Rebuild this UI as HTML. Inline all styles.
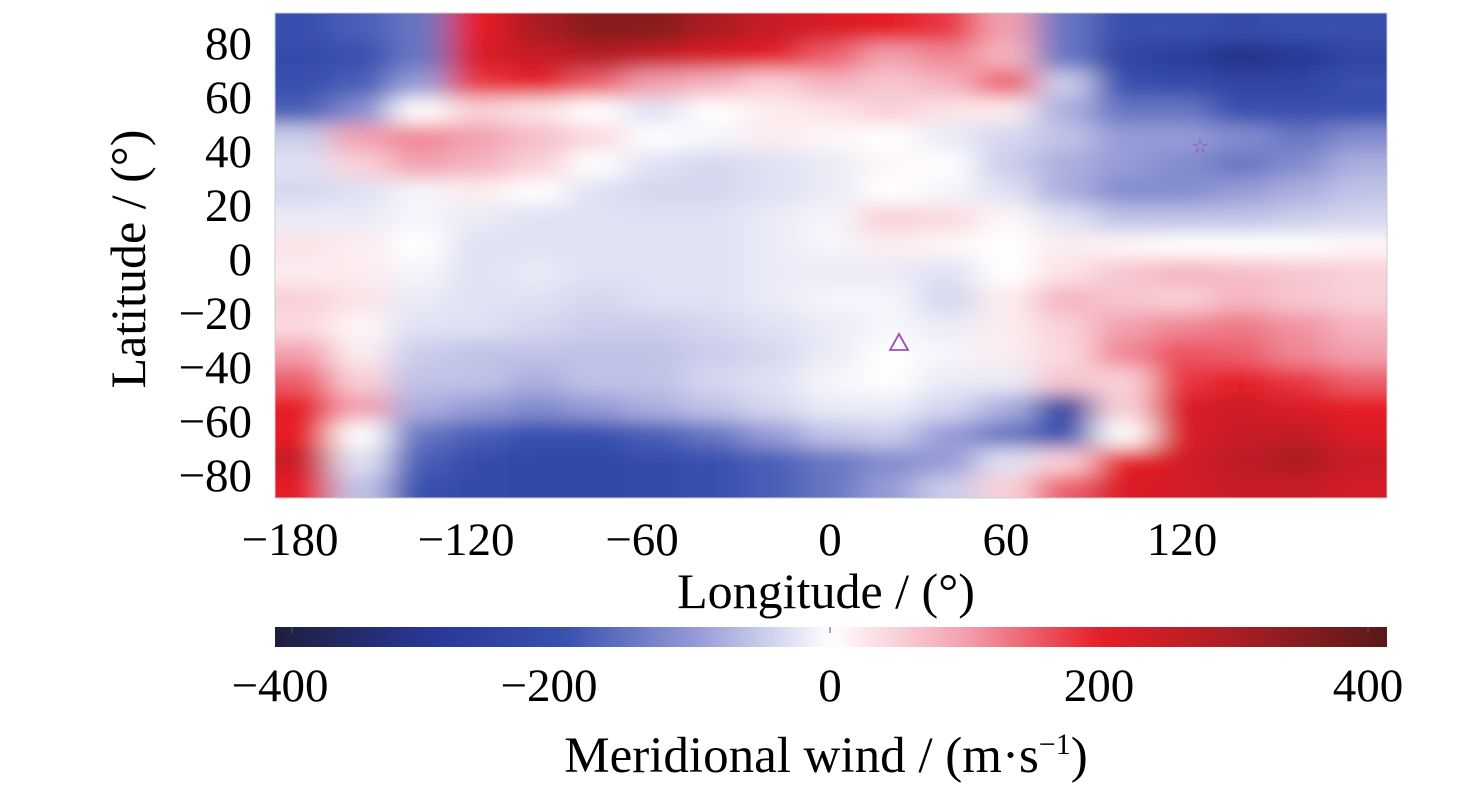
<!DOCTYPE html>
<html><head><meta charset="utf-8">
<style>
body{margin:0;background:#fff;}
svg{display:block;font-family:"Liberation Serif",serif;}
</style></head>
<body>
<svg id="chart" width="1476" height="785" xmlns="http://www.w3.org/2000/svg">
<defs>
<clipPath id="plotclip"><rect x="275" y="13" width="1112" height="485"/></clipPath>
<filter id="blur" x="-10%" y="-10%" width="120%" height="120%"><feGaussianBlur stdDeviation="17 9"/></filter>
<linearGradient id="cbgrad" x1="0" x2="1" y1="0" y2="0"></linearGradient>
</defs>
<g clip-path="url(#plotclip)"><g id="cells" filter="url(#blur)"></g></g>
<rect x="275" y="13" width="1112" height="485" fill="none" stroke="#ccc" stroke-width="1"/>
<g id="xticks"></g><g id="yticks"></g>
<text x="145" y="259" font-size="50" text-anchor="middle" transform="rotate(-90 145 259)">Latitude / (°)</text>
<text x="826" y="608" font-size="50" text-anchor="middle">Longitude / (°)</text>
<rect x="275" y="627" width="1112" height="20" fill="url(#cbgrad)"/>
<g id="cbticks"></g>
<text x="826" y="772" font-size="51" text-anchor="middle">Meridional wind / (m·s<tspan dy="-18" font-size="30">−1</tspan><tspan dy="18">)</tspan></text>
<text x="1200" y="153" font-size="20" fill="#9b4fb0" text-anchor="middle">☆</text>
<polygon points="899,334 908,350 890,350" fill="none" stroke="#9b4fb0" stroke-width="1.8"/>
</svg>
<script>
const lons=[-180,-160,-140,-120,-100,-80,-60,-40,-20,0,20,40,60,80,100,120,140,160,180];
const lats=[85,75,65,55,45,35,25,15,5,-5,-15,-25,-35,-45,-55,-65,-75,-85];
const values=[
[-200,-180,-150,200,300,350,350,300,250,220,200,180,100,-150,-200,-200,-220,-200,-200],
[-220,-200,-150,220,250,280,250,220,200,150,100,120,80,-150,-250,-280,-320,-300,-250],
[-200,-180,-100,180,200,150,100,80,50,80,60,80,150,-50,-200,-220,-250,-250,-200],
[-180,-120,0,50,30,0,-30,0,20,30,50,30,20,-80,-150,-150,-200,-200,-200],
[-50,100,120,100,70,40,0,-10,20,10,0,-20,-40,-60,-100,-100,-120,-150,-120],
[-30,50,100,80,50,0,-30,-40,-30,-20,10,0,-50,-80,-100,-120,-150,-120,-80],
[-40,-30,-10,20,0,-30,-40,-40,-30,-20,0,-10,-30,-80,-120,-120,-100,-80,-60],
[-20,-20,-10,-20,-30,-30,-30,-30,-20,-10,50,40,10,-30,-60,-60,-60,-50,-40],
[30,20,0,-30,-30,-30,-30,-30,-20,-10,20,10,0,20,10,0,0,0,10],
[20,20,-10,-30,-20,-30,-30,-30,-20,-20,-20,-30,0,30,60,80,70,60,50],
[50,30,-20,-30,-30,-40,-30,-30,-20,-10,-10,-40,20,80,60,50,80,60,50],
[40,10,-30,-30,-40,-50,-50,-40,-30,-20,-10,-20,20,50,100,120,130,110,80],
[100,20,-50,-60,-60,-60,-60,-50,-40,-20,0,-10,20,40,120,160,150,120,100],
[150,50,-60,-60,-80,-60,-60,-40,-30,-10,0,-20,-20,60,50,180,200,180,150],
[200,100,-80,-100,-120,-100,-80,-60,-40,-20,-20,-40,-80,-250,50,220,240,220,200],
[200,0,-150,-180,-200,-200,-180,-150,-100,-60,-50,-100,-150,-200,0,220,250,260,220],
[250,-30,-180,-220,-230,-230,-220,-200,-180,-150,-120,-100,-30,50,200,230,270,300,250],
[200,-60,-200,-220,-230,-230,-220,-200,-180,-150,-100,-50,50,150,220,230,250,250,230]
];
const xTicks=[-180,-120,-60,0,60,120];
const yTicks=[80,60,40,20,0,-20,-40,-60,-80];
const cbTicks=[-400,-200,0,200,400];
const cmapVals=[-415,-300,-200,-100,0,100,200,300,415];
const cmapCols=[[30,30,60],[40,55,150],[55,80,175],[150,155,215],[255,255,255],[242,160,175],[230,30,40],[170,30,35],[90,25,25]];

const X=lon=>830+(lon)*176/60;
const Y=lat=>259-lat*2.7;
const CX=v=>830+v*(1368-830)/400;
function color(v){
  v=Math.max(-415,Math.min(415,v));
  for(let i=0;i<cmapVals.length-1;i++){
    if(v<=cmapVals[i+1]){const t=(v-cmapVals[i])/(cmapVals[i+1]-cmapVals[i]);
      const c=cmapCols[i].map((a,k)=>Math.round(a+(cmapCols[i+1][k]-a)*t));
      return `rgb(${c[0]},${c[1]},${c[2]})`;}
  }
  return 'rgb(90,25,25)';
}
const NS='http://www.w3.org/2000/svg';
const cells=document.getElementById('cells');
for(let r=0;r<lats.length;r++){
  for(let c=0;c<lons.length;c++){
    let x0=X(lons[c]-10),x1=X(lons[c]+10),y0=Y(lats[r]+5),y1=Y(lats[r]-5);
    if(c===0)x0-=80; if(c===lons.length-1)x1+=80;
    if(r===0)y0-=60; if(r===lats.length-1)y1+=60;
    const el=document.createElementNS(NS,'rect');
    el.setAttribute('x',x0);el.setAttribute('y',y0);
    el.setAttribute('width',x1-x0+0.5);el.setAttribute('height',y1-y0+0.5);
    el.setAttribute('fill',color(values[r][c]));
    
    
    cells.appendChild(el);
  }
}
const xt=document.getElementById('xticks');
xTicks.forEach(v=>{
  const t=document.createElementNS(NS,'text');
  t.setAttribute('x',X(v)-(v<0?12:0));t.setAttribute('y',555);
  t.setAttribute('font-size','47');t.setAttribute('text-anchor','middle');
  t.textContent=(v<0?'−':'')+Math.abs(v);
  
  
  xt.appendChild(t);
});
const yt=document.getElementById('yticks');
yTicks.forEach(v=>{
  const t=document.createElementNS(NS,'text');
  t.setAttribute('x',252);t.setAttribute('y',Y(v)+16);
  t.setAttribute('font-size','47');t.setAttribute('text-anchor','end');
  t.textContent=(v<0?'−':'')+Math.abs(v);
  
  
  yt.appendChild(t);
});
const grad=document.getElementById('cbgrad');
for(let v=-415;v<=415;v+=10){
  const s=document.createElementNS(NS,'stop');
  s.setAttribute('offset',((v+415)/830).toFixed(4));
  s.setAttribute('stop-color',color(v));
  grad.appendChild(s);
}
const cbt=document.getElementById('cbticks');
cbTicks.forEach(v=>{
  const t=document.createElementNS(NS,'text');
  t.setAttribute('x',CX(v)-(v<0?12:0));t.setAttribute('y',701);
  t.setAttribute('font-size','47');t.setAttribute('text-anchor','middle');
  t.textContent=(v<0?'−':'')+Math.abs(v);
  
  
  cbt.appendChild(t);
  const l=document.createElementNS(NS,'line');
  l.setAttribute('x1',CX(v));l.setAttribute('x2',CX(v));
  l.setAttribute('y1',627);l.setAttribute('y2',633);
  l.setAttribute('stroke','#555');l.setAttribute('stroke-width','1');
  
  
  cbt.appendChild(l);
});
</script>
</body></html>
